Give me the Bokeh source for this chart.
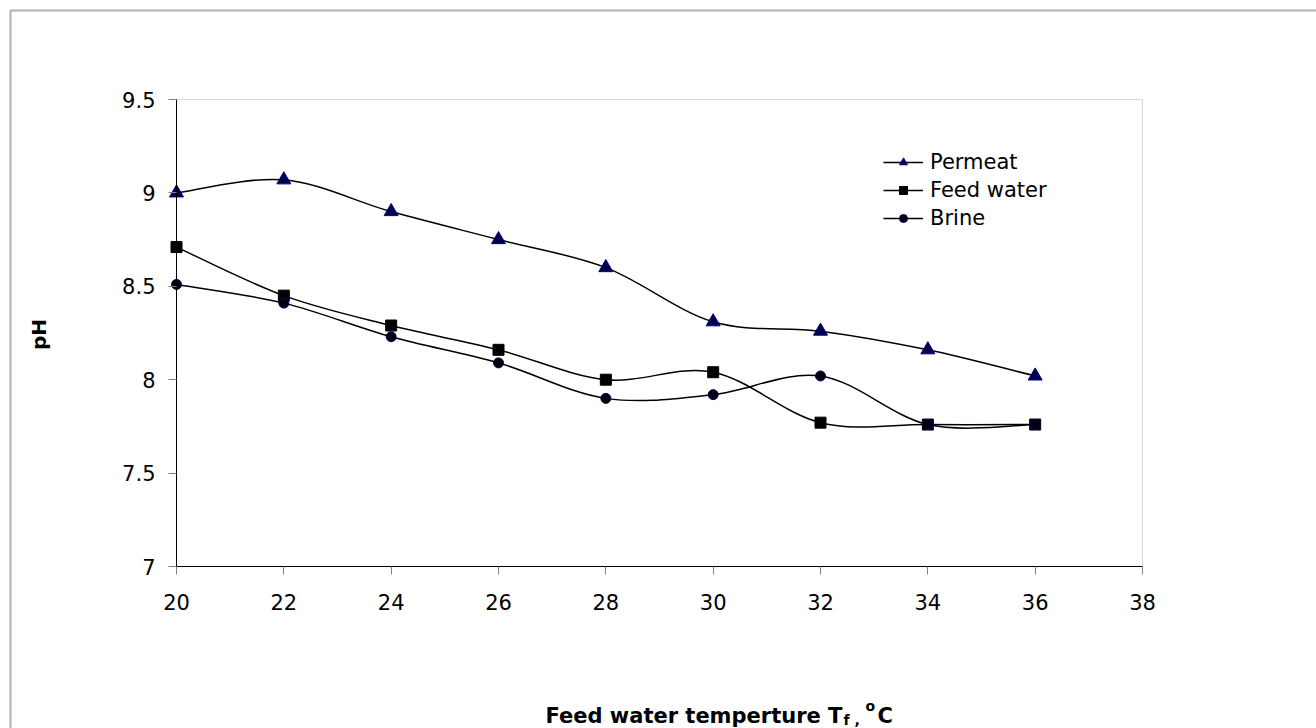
import math
from bokeh.plotting import figure
from bokeh.models import (Range1d, FixedTicker, Label, Legend, LegendItem,
                          BoxAnnotation, GlobalInlineStyleSheet)
from bokeh.embed import file_html
from bokeh.resources import INLINE

# ---------------- data ----------------
temps = [20, 22, 24, 26, 28, 30, 32, 34, 36]
ph_permeat = [9.00, 9.07, 8.90, 8.75, 8.60, 8.31, 8.26, 8.16, 8.02]
ph_feed = [8.71, 8.45, 8.29, 8.16, 8.00, 8.04, 7.77, 7.76, 7.76]
ph_brine = [8.51, 8.41, 8.23, 8.09, 7.90, 7.92, 8.02, 7.76, 7.76]
series_names = ["Permeat", "Feed water", "Brine"]
x_ticks = [20, 22, 24, 26, 28, 30, 32, 34, 36, 38]
y_ticks = [7, 7.5, 8, 8.5, 9, 9.5]
y_tick_labels = ["7", "7.5", "8", "8.5", "9", "9.5"]
x_title = "Feed water temperture T"
y_title = "pH"

# ---------------- layout (canvas px) ----------------
W, H = 1316, 728
AX_X0, AX_X1 = 20, 38          # plot-area extent in data
AX_Y0, AX_Y1 = 7, 9.5
PL, PR, PT, PB = 176, 1142, 99, 566   # where the plot area sits on the canvas
SX = (PR - PL) / (AX_X1 - AX_X0)
SY = (PB - PT) / (AX_Y1 - AX_Y0)
X0 = AX_X0 - PL / SX
X1 = AX_X0 + (W - PL) / SX
Y0 = AX_Y0 - (H - PB) / SY
Y1 = AX_Y1 + PT / SY
FONT = "DejaVu Sans"


def dx(cx):
    return X0 + cx / SX


def dy(cy):
    return Y0 + (H - cy) / SY


def smooth(xs, ys, t=1.0 / 6.0):
    n = len(xs)
    pts = list(zip(xs, ys))
    d = dict(x0=[], y0=[], x1=[], y1=[], cx0=[], cy0=[], cx1=[], cy1=[])
    for i in range(n - 1):
        p0 = pts[max(i - 1, 0)]
        p1 = pts[i]
        p2 = pts[i + 1]
        p3 = pts[min(i + 2, n - 1)]
        d["x0"].append(p1[0]); d["y0"].append(p1[1])
        d["x1"].append(p2[0]); d["y1"].append(p2[1])
        d["cx0"].append(p1[0] + (p2[0] - p0[0]) * t)
        d["cy0"].append(p1[1] + (p2[1] - p0[1]) * t)
        d["cx1"].append(p2[0] - (p3[0] - p1[0]) * t)
        d["cy1"].append(p2[1] - (p3[1] - p1[1]) * t)
    return d


p = figure(width=W, height=H, x_range=Range1d(X0, X1), y_range=Range1d(Y0, Y1),
           output_backend="svg", toolbar_location=None,
           min_border=0, min_border_left=0, min_border_right=0,
           min_border_top=0, min_border_bottom=0)
p.stylesheets = [GlobalInlineStyleSheet(css="html, body { overflow: hidden; }")]
p.background_fill_color = "white"
p.border_fill_color = "white"
p.outline_line_color = None
p.grid.visible = False

# plot-area box (gray)
p.add_layout(BoxAnnotation(left=AX_X0, right=AX_X1, bottom=AX_Y0, top=AX_Y1,
                           fill_color=None, line_color="#808080", line_width=1,
                           level="underlay"))
# outer chart border (runs off the right and bottom edges)
p.add_layout(BoxAnnotation(left=10, right=4000, top=10, bottom=4000,
                           left_units="canvas", right_units="canvas",
                           top_units="canvas", bottom_units="canvas",
                           fill_color=None, line_color="black", line_width=2))

# axes (placed inside the frame at the plot-area edges)
p.xaxis.ticker = FixedTicker(ticks=x_ticks)
p.yaxis.ticker = FixedTicker(ticks=y_ticks)
p.yaxis.major_label_overrides = {t: l for t, l in zip(y_ticks, y_tick_labels)}
p.xaxis.fixed_location = AX_Y0
p.yaxis.fixed_location = AX_X0
p.xaxis.bounds = (AX_X0, AX_X1)
p.yaxis.bounds = (AX_Y0, AX_Y1)
for ax in (p.xaxis, p.yaxis):
    ax.major_tick_out = 8
    ax.major_tick_in = 0
    ax.minor_tick_line_color = None
    ax.major_tick_line_color = "#808080"
    ax.axis_line_color = "black"
    ax.axis_line_width = 1
    ax.major_label_text_font = FONT
    ax.major_label_text_font_size = "21px"
    ax.major_label_text_color = "black"
p.yaxis.major_label_standoff = 13
p.xaxis.major_label_standoff = 19

# series
styles = [
    dict(marker="triangle", size=14, fill_color="#00004a", line_color="#000080"),
    dict(marker="square", size=11, fill_color="black", line_color="black"),
    dict(marker="circle", size=10, fill_color="black", line_color="#000080"),
]
items = []
for name, ys, st in zip(series_names, [ph_permeat, ph_feed, ph_brine], styles):
    b = smooth(temps, ys)
    lr = p.bezier(x0="x0", y0="y0", x1="x1", y1="y1", cx0="cx0", cy0="cy0",
                  cx1="cx1", cy1="cy1", source=b, line_color="black", line_width=1.5)
    sr = p.scatter(temps, ys, marker=st["marker"], size=st["size"],
                   fill_color=st["fill_color"], line_color=st["line_color"], line_width=1)
    items.append(LegendItem(label=name, renderers=[lr, sr]))

legend = Legend(items=items, location=(883, H - 230), orientation="vertical",
                border_line_color=None, background_fill_alpha=0,
                padding=0, margin=0, spacing=4, glyph_width=40, glyph_height=20,
                label_standoff=7, label_text_font=FONT,
                label_text_font_size="21px", label_text_color="black")
p.add_layout(legend)

# axis titles
bold = dict(text_font=FONT, text_font_style="bold", text_color="black")
p.add_layout(Label(x=dx(545), y=dy(715.5), text=x_title, text_font_size="21px",
                   text_align="left", text_baseline="alphabetic", **bold))
p.add_layout(Label(x=dx(843), y=dy(719), text="f ,", text_font_size="14px",
                   text_align="left", text_baseline="alphabetic", **bold))
p.add_layout(Label(x=dx(865), y=dy(705), text="o", text_font_size="14px",
                   text_align="left", text_baseline="alphabetic", **bold))
p.add_layout(Label(x=dx(877), y=dy(715.5), text="C", text_font_size="21px",
                   text_align="left", text_baseline="alphabetic", **bold))
p.add_layout(Label(x=dx(38), y=dy(334), text=y_title, text_font_size="20px",
                   angle=math.pi / 2, text_align="center", text_baseline="middle", **bold))

open("out.html", "w").write(file_html(p, INLINE))
